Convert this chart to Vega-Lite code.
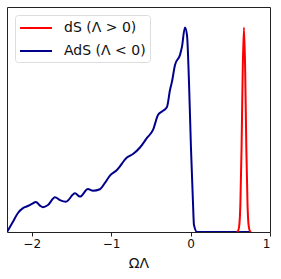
{
  "$schema": "https://vega.github.io/schema/vega-lite/v6.json",
  "width": 263,
  "height": 225,
  "padding": {"left": 7, "top": 7, "right": 11, "bottom": 0},
  "background": "white",
  "config": {
    "view": {"stroke": "#222", "strokeWidth": 1},
    "font": "DejaVu Sans"
  },
  "data": {
    "values": [
      {"x": -2.311, "y": 0.0, "s": "AdS (Λ < 0)"},
      {"x": -2.236, "y": 0.05, "s": "AdS (Λ < 0)"},
      {"x": -2.173, "y": 0.093, "s": "AdS (Λ < 0)"},
      {"x": -2.11, "y": 0.117, "s": "AdS (Λ < 0)"},
      {"x": -2.047, "y": 0.127, "s": "AdS (Λ < 0)"},
      {"x": -1.997, "y": 0.137, "s": "AdS (Λ < 0)"},
      {"x": -1.947, "y": 0.147, "s": "AdS (Λ < 0)"},
      {"x": -1.896, "y": 0.129, "s": "AdS (Λ < 0)"},
      {"x": -1.859, "y": 0.121, "s": "AdS (Λ < 0)"},
      {"x": -1.795, "y": 0.132, "s": "AdS (Λ < 0)"},
      {"x": -1.707, "y": 0.17, "s": "AdS (Λ < 0)"},
      {"x": -1.644, "y": 0.156, "s": "AdS (Λ < 0)"},
      {"x": -1.569, "y": 0.148, "s": "AdS (Λ < 0)"},
      {"x": -1.455, "y": 0.189, "s": "AdS (Λ < 0)"},
      {"x": -1.392, "y": 0.173, "s": "AdS (Λ < 0)"},
      {"x": -1.292, "y": 0.21, "s": "AdS (Λ < 0)"},
      {"x": -1.229, "y": 0.202, "s": "AdS (Λ < 0)"},
      {"x": -1.141, "y": 0.209, "s": "AdS (Λ < 0)"},
      {"x": -1.078, "y": 0.24, "s": "AdS (Λ < 0)"},
      {"x": -1.015, "y": 0.276, "s": "AdS (Λ < 0)"},
      {"x": -0.927, "y": 0.303, "s": "AdS (Λ < 0)"},
      {"x": -0.801, "y": 0.364, "s": "AdS (Λ < 0)"},
      {"x": -0.725, "y": 0.381, "s": "AdS (Λ < 0)"},
      {"x": -0.637, "y": 0.413, "s": "AdS (Λ < 0)"},
      {"x": -0.549, "y": 0.46, "s": "AdS (Λ < 0)"},
      {"x": -0.473, "y": 0.499, "s": "AdS (Λ < 0)"},
      {"x": -0.41, "y": 0.572, "s": "AdS (Λ < 0)"},
      {"x": -0.36, "y": 0.589, "s": "AdS (Λ < 0)"},
      {"x": -0.297, "y": 0.611, "s": "AdS (Λ < 0)"},
      {"x": -0.259, "y": 0.694, "s": "AdS (Λ < 0)"},
      {"x": -0.234, "y": 0.735, "s": "AdS (Λ < 0)"},
      {"x": -0.196, "y": 0.817, "s": "AdS (Λ < 0)"},
      {"x": -0.133, "y": 0.866, "s": "AdS (Λ < 0)"},
      {"x": -0.108, "y": 0.906, "s": "AdS (Λ < 0)"},
      {"x": -0.071, "y": 1.0, "s": "AdS (Λ < 0)"},
      {"x": -0.045, "y": 0.963, "s": "AdS (Λ < 0)"},
      {"x": -0.02, "y": 0.735, "s": "AdS (Λ < 0)"},
      {"x": 0.005, "y": 0.411, "s": "AdS (Λ < 0)"},
      {"x": 0.03, "y": 0.148, "s": "AdS (Λ < 0)"},
      {"x": 0.043, "y": 0.034, "s": "AdS (Λ < 0)"},
      {"x": 0.081, "y": 0.0, "s": "AdS (Λ < 0)"},
      {"x": 0.3, "y": 0.0, "s": "AdS (Λ < 0)"},
      {"x": 0.6, "y": 0.0, "s": "AdS (Λ < 0)"},
      {"x": 0.75, "y": 0.0, "s": "AdS (Λ < 0)"},
      {"x": 0.58, "y": 0.0, "s": "dS (Λ > 0)"},
      {"x": 0.592, "y": 0.002, "s": "dS (Λ > 0)"},
      {"x": 0.612, "y": 0.029, "s": "dS (Λ > 0)"},
      {"x": 0.627, "y": 0.135, "s": "dS (Λ > 0)"},
      {"x": 0.642, "y": 0.411, "s": "dS (Λ > 0)"},
      {"x": 0.657, "y": 0.801, "s": "dS (Λ > 0)"},
      {"x": 0.672, "y": 1.0, "s": "dS (Λ > 0)"},
      {"x": 0.687, "y": 0.801, "s": "dS (Λ > 0)"},
      {"x": 0.702, "y": 0.411, "s": "dS (Λ > 0)"},
      {"x": 0.717, "y": 0.135, "s": "dS (Λ > 0)"},
      {"x": 0.732, "y": 0.029, "s": "dS (Λ > 0)"},
      {"x": 0.752, "y": 0.002, "s": "dS (Λ > 0)"},
      {"x": 0.764, "y": 0.0, "s": "dS (Λ > 0)"}
    ]
  },
  "encoding": {
    "x": {
      "field": "x", "type": "quantitative",
      "scale": {"domain": [-2.311, 1.0], "nice": false, "zero": false},
      "axis": {
        "values": [-2, -1, 0, 1],
        "labelExpr": "replace(datum.label, '-', '−')",
        "grid": false, "domain": false,
        "tickColor": "#222", "tickSize": 4,
        "labelFontSize": 12, "labelColor": "#111", "labelPadding": 2,
        "title": "ΩΛ", "titleFontSize": 14, "titleFontWeight": "normal",
        "titleColor": "#111", "titlePadding": 7
      }
    },
    "y": {
      "field": "y", "type": "quantitative",
      "scale": {"domain": [0, 1.1], "nice": false},
      "axis": null
    },
    "color": {
      "field": "s", "type": "nominal",
      "scale": {"domain": ["dS (Λ > 0)", "AdS (Λ < 0)"], "range": ["#ff0000", "#00008b"]},
      "legend": {
        "title": null,
        "orient": "none",
        "legendX": 8,
        "legendY": 8,
        "symbolType": "M-2,0H2",
        "symbolSize": 256,
        "symbolOffset": 8,
        "symbolStrokeWidth": 2,
        "labelFontSize": 14,
        "labelColor": "#111",
        "labelOffset": 19,
        "rowPadding": 7,
        "padding": 4,
        "fillColor": "white",
        "strokeColor": "#ddd",
        "cornerRadius": 3
      }
    }
  },
  "layer": [
    {
      "transform": [{"filter": "datum.s == 'AdS (Λ < 0)'"}],
      "mark": {"type": "line", "strokeWidth": 2, "interpolate": "monotone", "clip": true}
    },
    {
      "transform": [{"filter": "datum.s == 'dS (Λ > 0)'"}],
      "mark": {"type": "line", "strokeWidth": 2, "interpolate": "monotone", "clip": true}
    }
  ]
}
